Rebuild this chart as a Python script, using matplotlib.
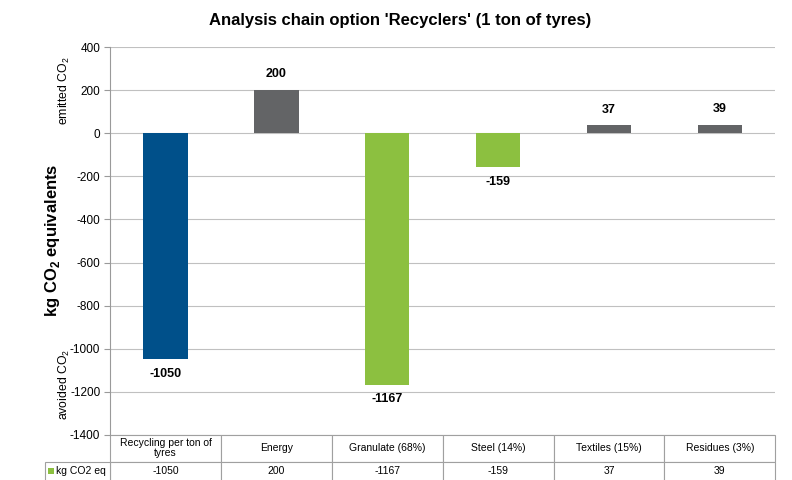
import numpy as np
import matplotlib.pyplot as plt
from matplotlib.patches import Rectangle

plt.rcParams["font.family"] = ["Liberation Sans", "DejaVu Sans"]
plt.rcParams["mathtext.fontset"] = "custom"
plt.rcParams["mathtext.rm"] = "Liberation Sans"
plt.rcParams["mathtext.bf"] = "Liberation Sans:bold"

# Data
categories = ["Recycling per ton of\ntyres", "Energy", "Granulate (68%)",
              "Steel (14%)", "Textiles (15%)", "Residues (3%)"]
values = [-1050, 200, -1167, -159, 37, 39]
bar_colors = ["#00508a", "#636466", "#8cc040", "#8cc040", "#636466", "#636466"]
series_name = "kg CO2 eq"
yticks = np.arange(-1400, 401, 200)

fig = plt.figure(figsize=(7.92, 4.8), dpi=100)
ax = fig.add_axes([0.139, 0.094, 0.840, 0.808])

x = np.arange(len(values))
ax.bar(x, values, width=0.4, color=bar_colors, zorder=3)

# Value labels
for xi, v in zip(x, values):
    if v >= 0:
        ax.text(xi, v + 45, str(v), ha="center", va="bottom",
                fontsize=9, fontweight="bold")
    else:
        ax.text(xi, v - 40, str(v), ha="center", va="top",
                fontsize=9, fontweight="bold")

ax.set_xlim(-0.5, len(values) - 0.5)
ax.set_ylim(-1400, 400)
ax.set_yticks(yticks)
ax.set_yticklabels([str(t) for t in yticks], fontsize=8.5)
ax.set_xticks([])
ax.grid(axis="y", color="#c0c0c0", linewidth=0.8, zorder=0)
for s in ["top", "right", "bottom"]:
    ax.spines[s].set_visible(False)
ax.spines["left"].set_color("#9a9a9a")
ax.tick_params(axis="y", length=4, color="#9a9a9a", pad=3)

# Table under the plot (drawn in axes coordinates)
grid_col = "#a0a0a0"
hh = 27 / 388
hv = 20 / 388
ncol = len(categories)
for i, (cat, v) in enumerate(zip(categories, values)):
    x0 = i / ncol
    ax.add_patch(Rectangle((x0, -hh), 1 / ncol, hh, transform=ax.transAxes,
                           facecolor="white", edgecolor=grid_col, lw=0.8,
                           clip_on=False))
    ax.add_patch(Rectangle((x0, -hh - hv), 1 / ncol, hv, transform=ax.transAxes,
                           facecolor="white", edgecolor=grid_col, lw=0.8,
                           clip_on=False))
    ax.text(x0 + 0.5 / ncol, -hh / 2, cat, transform=ax.transAxes,
            ha="center", va="center", fontsize=7.5, linespacing=1.0)
    ax.text(x0 + 0.5 / ncol, -hh - hv * 0.45, str(v), transform=ax.transAxes,
            ha="center", va="center", fontsize=7.5)

lab_w = 65 / 665
ax.add_patch(Rectangle((-lab_w, -hh - hv), lab_w, hv, transform=ax.transAxes,
                       facecolor="white", edgecolor=grid_col, lw=0.8,
                       clip_on=False))
ax.add_patch(Rectangle((-lab_w + 3 / 665, -hh - hv * 0.45 - 3 / 388),
                       6 / 665, 6 / 388, transform=ax.transAxes,
                       facecolor="#8cc040", edgecolor="none", clip_on=False))
ax.text(-lab_w + 11 / 665, -hh - hv * 0.45, series_name, transform=ax.transAxes,
        ha="left", va="center", fontsize=7.5)

# Titles and axis labels
fig.text(0.505, 0.957, "Analysis chain option 'Recyclers' (1 ton of tyres)",
         ha="center", va="center", fontsize=12, fontweight="bold")
fig.text(0.066, 0.5, r"kg CO$_\mathbf{2}$ equivalents", rotation=90,
         ha="center", va="center", fontsize=12, fontweight="bold")
fig.text(0.081, 0.81, r"emitted CO$_2$", rotation=90,
         ha="center", va="center", fontsize=8.8)
fig.text(0.081, 0.2, r"avoided CO$_2$", rotation=90,
         ha="center", va="center", fontsize=8.8)

fig.savefig("out.png", dpi=100)
